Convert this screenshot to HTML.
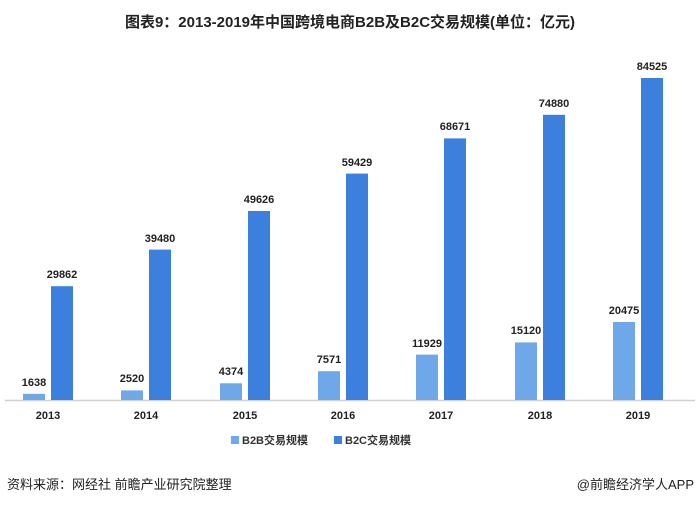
<!DOCTYPE html>
<html><head><meta charset="utf-8"><style>
body{margin:0;background:#fff;}
svg text{font-family:"Liberation Sans","Noto Sans CJK SC",sans-serif;}
.v{font-size:11px;font-weight:bold;fill:#222;text-anchor:middle;}
</style></head><body>
<svg width="700" height="505" xmlns="http://www.w3.org/2000/svg">
<text x="350" y="27" text-anchor="middle" font-size="15" font-weight="bold" fill="#222">图表9：2013-2019年中国跨境电商B2B及B2C交易规模(单位：亿元)</text>
<line x1="5" y1="400.5" x2="695" y2="400.5" stroke="#d0d0d0" stroke-width="1.5"/>
<g fill="#6fa8e8">
<rect x="23" y="393.8" width="22" height="6.2"/>
<rect x="121" y="390.4" width="22" height="9.6"/>
<rect x="220" y="383.3" width="22" height="16.7"/>
<rect x="318" y="371.2" width="22" height="28.8"/>
<rect x="416" y="354.6" width="22" height="45.4"/>
<rect x="515" y="342.4" width="22" height="57.6"/>
<rect x="613" y="322" width="22" height="78"/>
</g>
<g fill="#3d7fdc">
<rect x="51" y="286.2" width="22" height="113.8"/>
<rect x="149" y="249.6" width="22" height="150.4"/>
<rect x="248" y="211" width="22" height="189"/>
<rect x="346" y="173.6" width="22" height="226.4"/>
<rect x="444" y="138.4" width="22" height="261.6"/>
<rect x="543" y="114.8" width="22" height="285.2"/>
<rect x="641" y="78" width="22" height="322"/>
</g>
<text class="v" x="34" y="386">1638</text>
<text class="v" x="132" y="382">2520</text>
<text class="v" x="231" y="375">4374</text>
<text class="v" x="329" y="363">7571</text>
<text class="v" x="427" y="347">11929</text>
<text class="v" x="526" y="334">15120</text>
<text class="v" x="624" y="314">20475</text>
<text class="v" x="62" y="278">29862</text>
<text class="v" x="160" y="242">39480</text>
<text class="v" x="259" y="203">49626</text>
<text class="v" x="357" y="166">59429</text>
<text class="v" x="455" y="130">68671</text>
<text class="v" x="554" y="107">74880</text>
<text class="v" x="652" y="70">84525</text>
<text class="v" x="48" y="419">2013</text>
<text class="v" x="146" y="419">2014</text>
<text class="v" x="245" y="419">2015</text>
<text class="v" x="343" y="419">2016</text>
<text class="v" x="441" y="419">2017</text>
<text class="v" x="540" y="419">2018</text>
<text class="v" x="638" y="419">2019</text>
<rect x="231" y="436" width="8" height="8" fill="#6fa8e8"/>
<text x="242" y="444" font-size="11" font-weight="bold" fill="#333">B2B交易规模</text>
<rect x="334" y="436" width="8" height="8" fill="#3d7fdc"/>
<text x="345" y="444" font-size="11" font-weight="bold" fill="#333">B2C交易规模</text>
<text x="7" y="489" font-size="13" fill="#222">资料来源：网经社 前瞻产业研究院整理</text>
<text x="694" y="489" font-size="13" fill="#222" text-anchor="end">@前瞻经济学人APP</text>
</svg>
</body></html>
